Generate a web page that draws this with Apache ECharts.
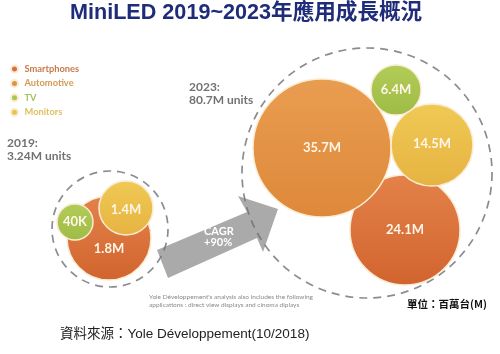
<!DOCTYPE html>
<html>
<head>
<meta charset="utf-8">
<script src="https://cdn.jsdelivr.net/npm/echarts@6/dist/echarts.min.js"></script>
<style>html,body{margin:0;padding:0;background:#fff;}#main{width:500px;height:354px;}</style>
</head>
<body>
<div id="main"></div>
<script>
// ---- data ----
const titleText = 'MiniLED 2019~2023年應用成長概況';
const categories = ['Smartphones', 'Automotive', 'TV', 'Monitors'];
const years = ['2019', '2023'];
const yearTotals = ['3.24M units', '80.7M units'];
const values2019 = [1.8, 0, 0.04, 1.4];
const values2023 = [24.1, 35.7, 6.4, 14.5];
const cagrText = ['CAGR', '+90%'];
const footnote = ["Yole Développement's analysis also includes the following", 'applications : direct view displays and cinoma diplays'];
const unitText = '單位：百萬台(M)';
const sourceText = '資料來源：Yole Développement(10/2018)';

// ---- layout (pixel space of hidden axes) ----
const layout2019 = [{cx:109, cy:238, r:42, dy:11}, null, {cx:75, cy:222, r:18, dy:0}, {cx:126, cy:208, r:27, dy:2}];
const layout2023 = [{cx:405, cy:230, r:55, dy:0}, {cx:322, cy:148, r:69, dy:0}, {cx:396, cy:90, r:25, dy:0}, {cx:432, cy:145, r:41, dy:-1}];
const groupCircles = [{cx:110, cy:229, r:58}, {cx:367, cy:173, r:125}];

// ---- styles ----
const grad = {
  Smartphones: ['#e3824a', '#d2642e'],
  Automotive: ['#e99d50', '#de883a'],
  TV: ['#b2cc58', '#9ebc45'],
  Monitors: ['#f0c955', '#e6b341']
};
const legendDot = {Smartphones:'#d3743f', Automotive:'#db9442', TV:'#a9c452', Monitors:'#e8c24c'};
const legendTxt = {Smartphones:'#c97a4c', Automotive:'#d29a52', TV:'#a9c25c', Monitors:'#e0c060'};

function fmt(v) { return v >= 1 ? v + 'M' : Math.round(v * 1000) + 'K'; }

const drawOrder = ['Smartphones', 'Automotive', 'Monitors', 'TV'];
const series = [];
series.push({
  type: 'scatter', silent: true, z: 3,
  data: groupCircles.map(g => ({value: [g.cx, g.cy], symbolSize: g.r * 2})),
  itemStyle: {color: 'rgba(0,0,0,0)', borderColor: '#6c6f75', borderWidth: 1.7, borderType: [8, 6]},
  emphasis: {disabled: true}
});
drawOrder.forEach(name => {
  const i = categories.indexOf(name);
  const data = [];
  [[values2019, layout2019], [values2023, layout2023]].forEach(([vals, lay]) => {
    const v = vals[i], L = lay[i];
    if (!v || !L) return;
    data.push({
      value: [L.cx, L.cy, v],
      symbolSize: L.r * 2,
      label: {offset: [0, L.dy]}
    });
  });
  series.push({
    name: name, type: 'scatter', z: 4,
    data: data,
    itemStyle: {
      color: new echarts.graphic.LinearGradient(0, 0, 0, 1, [{offset:0, color:grad[name][0]}, {offset:1, color:grad[name][1]}]),
      borderColor: '#fbebd3', borderWidth: 1.5, opacity: 1
    },
    label: {
      show: true, position: 'inside',
      formatter: p => fmt(p.value[2]),
      color: '#fff6e8', fontFamily: 'Lato', fontWeight: 'bold', fontSize: 13
    },
    emphasis: {disabled: true}
  });
});

const chart = echarts.init(document.getElementById('main'), null, {renderer: 'canvas'});
chart.setOption({
  animation: false,
  backgroundColor: '#ffffff',
  title: {
    text: titleText, left: 70, top: 2, padding: 0,
    textStyle: {fontFamily: 'Liberation Sans, Noto Sans CJK TC', fontWeight: 'bold', fontSize: 21.6, color: '#1f2c7a'}
  },
  legend: {
    orient: 'vertical', left: 5, top: 59, icon: 'circle',
    itemWidth: 10, itemHeight: 7, itemGap: 4.4,
    selectedMode: false,
    data: categories.map(c => ({name: c, itemStyle: {color: legendDot[c]}, textStyle: {color: legendTxt[c]}})),
    textStyle: {fontFamily: 'Lato', fontWeight: 'bold', fontSize: 9.3, lineHeight: 10}
  },
  grid: {left: 0, right: 0, top: 0, bottom: 0},
  xAxis: {type: 'value', min: 0, max: 500, show: false},
  yAxis: {type: 'value', min: 0, max: 354, inverse: true, show: false},
  graphic: [
    {type: 'polygon', z: 1, shape: {points: [[157,250],[247,212],[238,196],[278,209],[263,252],[257,238],[168,278]]}, style: {fill: '#aaaaaa'}},
    {type: 'text', z: 5, left: 219 - 15, top: 226, style: {text: cagrText.join('\n'), fill: '#ffffff', font: 'bold 11px Lato', lineHeight: 11, align: 'center', width: 30}},
    {type: 'text', z: 5, left: 7, top: 137, style: {text: years[0] + ':\n' + yearTotals[0], fill: '#727272', font: 'bold 12px Lato', lineHeight: 13}},
    {type: 'text', z: 5, left: 189, top: 81, style: {text: years[1] + ':\n' + yearTotals[1], fill: '#727272', font: 'bold 12px Lato', lineHeight: 13}},
    {type: 'text', z: 5, right: 187, top: 293, style: {text: footnote.join('\n'), fill: '#8a8a8a', font: '6.5px Lato', lineHeight: 8, align: 'right'}},
    {type: 'text', z: 5, left: 407, top: 299, style: {text: unitText, fill: '#111111', font: 'bold 10.5px "Noto Sans CJK TC"'}},
    {type: 'text', z: 5, left: 60, top: 328, style: {text: sourceText, fill: '#222222', font: '13.5px "Liberation Sans", "Noto Sans CJK TC"'}}
  ],
  series: series
});
</script>
</body>
</html>
